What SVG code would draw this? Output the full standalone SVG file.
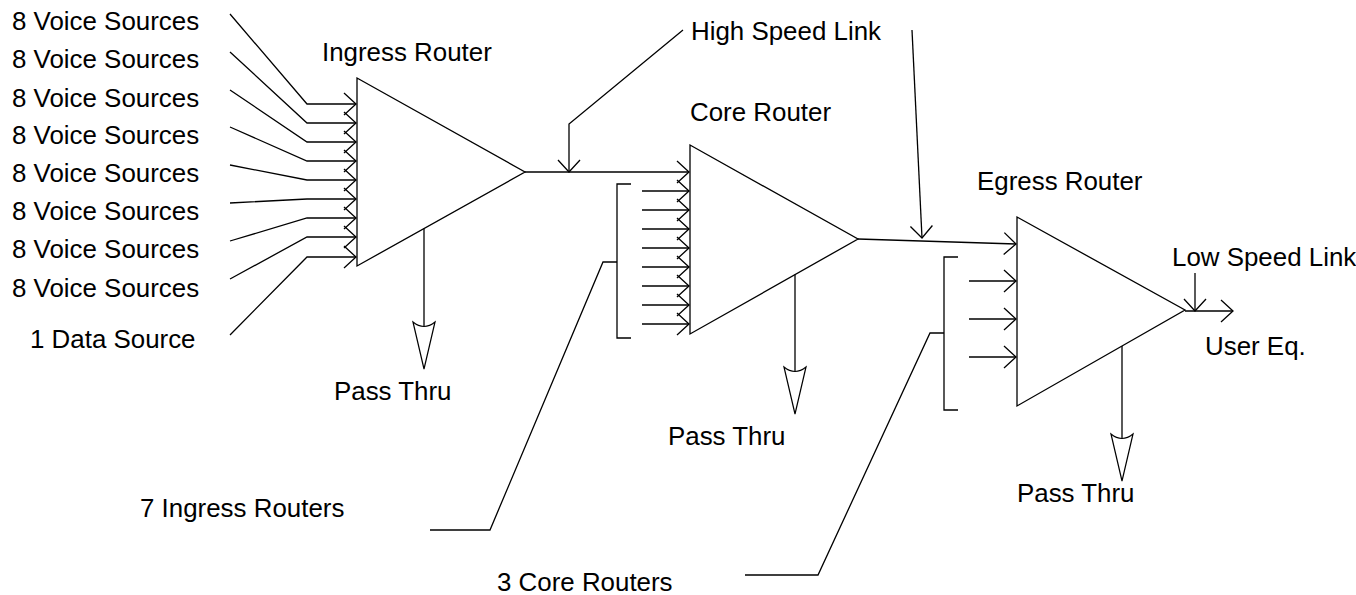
<svg xmlns="http://www.w3.org/2000/svg" width="1356" height="595" viewBox="0 0 1356 595">
<style>
text{font-family:"Liberation Sans",Arial,sans-serif;font-size:25.9px;fill:#000}
.ln{fill:none;stroke:#000;stroke-width:1.3}
.tri{fill:#fff;stroke:#000;stroke-width:1.3}
.dart{fill:#fff;stroke:#000;stroke-width:1.2}
</style>
<defs>
<marker id="open" viewBox="-15 -15 30 30" markerWidth="30" markerHeight="30" refX="0" refY="0" markerUnits="userSpaceOnUse" orient="auto">
<path d="M-12,-11 L0,0 L-12,11" fill="none" stroke="#000" stroke-width="1.3"/>
</marker>
</defs>
<rect width="1356" height="595" fill="#fff"/>

<g id="ingress-router">
<polygon class="tri" points="357,78 525,172 357,266"/>
<text x="322" y="61">Ingress Router</text>
</g>
<g id="core-router">
<polygon class="tri" points="690,145 858,239 690,334"/>
<text x="690" y="121">Core Router</text>
</g>
<g id="egress-router">
<polygon class="tri" points="1017,217 1185,310 1017,406"/>
<text x="977" y="190">Egress Router</text>
</g>

<g id="sources">
<text x="12" y="30">8 Voice Sources</text>
<text x="12" y="68">8 Voice Sources</text>
<text x="12" y="107">8 Voice Sources</text>
<text x="12" y="144">8 Voice Sources</text>
<text x="12" y="182">8 Voice Sources</text>
<text x="12" y="220">8 Voice Sources</text>
<text x="12" y="258">8 Voice Sources</text>
<text x="12" y="297">8 Voice Sources</text>
<text x="30" y="348">1 Data Source</text>
</g>
<g id="labels">
<text x="691" y="40">High Speed Link</text>
<text x="1172" y="266">Low Speed Link</text>
<text x="1205" y="355">User Eq.</text>
<text x="334" y="400">Pass Thru</text>
<text x="668" y="445">Pass Thru</text>
<text x="1017" y="502">Pass Thru</text>
<text x="140" y="517">7 Ingress Routers</text>
<text x="497" y="591">3 Core Routers</text>
</g>

<g id="connectors">
<polyline class="ln" marker-end="url(#open)" points="230,14 307,104 356,104"/>
<polyline class="ln" marker-end="url(#open)" points="230,52 307,123 356,123"/>
<polyline class="ln" marker-end="url(#open)" points="230,90 307,142 356,142"/>
<polyline class="ln" marker-end="url(#open)" points="230,127 307,161 356,161"/>
<polyline class="ln" marker-end="url(#open)" points="230,165 307,180 356,180"/>
<polyline class="ln" marker-end="url(#open)" points="230,203 307,199 356,199"/>
<polyline class="ln" marker-end="url(#open)" points="230,241 307,218 356,218"/>
<polyline class="ln" marker-end="url(#open)" points="230,279 307,237 356,237"/>
<polyline class="ln" marker-end="url(#open)" points="230,335 307,257 356,257"/>

<line class="ln" marker-end="url(#open)" x1="525" y1="172" x2="689" y2="172"/>
<polyline class="ln" marker-end="url(#open)" points="683,30 569,124 569,172"/>
<line class="ln" marker-end="url(#open)" x1="642" y1="191" x2="689" y2="191"/>
<line class="ln" marker-end="url(#open)" x1="642" y1="210" x2="689" y2="210"/>
<line class="ln" marker-end="url(#open)" x1="642" y1="229" x2="689" y2="229"/>
<line class="ln" marker-end="url(#open)" x1="642" y1="248" x2="689" y2="248"/>
<line class="ln" marker-end="url(#open)" x1="642" y1="267" x2="689" y2="267"/>
<line class="ln" marker-end="url(#open)" x1="642" y1="286" x2="689" y2="286"/>
<line class="ln" marker-end="url(#open)" x1="642" y1="305" x2="689" y2="305"/>
<line class="ln" marker-end="url(#open)" x1="642" y1="324" x2="689" y2="324"/>
<polyline class="ln" points="631,184 617,184 617,338 631,338"/>
<polyline class="ln" points="617,262 603,262 490,530 430,530"/>

<line class="ln" marker-end="url(#open)" x1="858" y1="239" x2="1016" y2="244"/>
<line class="ln" marker-end="url(#open)" x1="912" y1="30" x2="922" y2="238"/>
<line class="ln" marker-end="url(#open)" x1="969" y1="281" x2="1016" y2="281"/>
<line class="ln" marker-end="url(#open)" x1="969" y1="319" x2="1016" y2="319"/>
<line class="ln" marker-end="url(#open)" x1="969" y1="357" x2="1016" y2="357"/>
<polyline class="ln" points="958,257 944,257 944,410 958,410"/>
<polyline class="ln" points="944,333 930,333 818,575 745,575"/>

<line class="ln" marker-end="url(#open)" x1="1185" y1="311" x2="1233" y2="311"/>
<line class="ln" marker-end="url(#open)" x1="1195" y1="273" x2="1195" y2="311"/>

<line class="ln" x1="424" y1="228.5" x2="424" y2="327"/>
<path class="dart" d="M413,322 L424,369 L435,322 Q424,331 413,322 Z"/>
<line class="ln" x1="795" y1="274.6" x2="795" y2="372"/>
<path class="dart" d="M784,367 L795,414 L806,367 Q795,376 784,367 Z"/>
<line class="ln" x1="1122" y1="346" x2="1122" y2="439"/>
<path class="dart" d="M1111,434 L1122,481 L1133,434 Q1122,443 1111,434 Z"/>
</g>
</svg>
